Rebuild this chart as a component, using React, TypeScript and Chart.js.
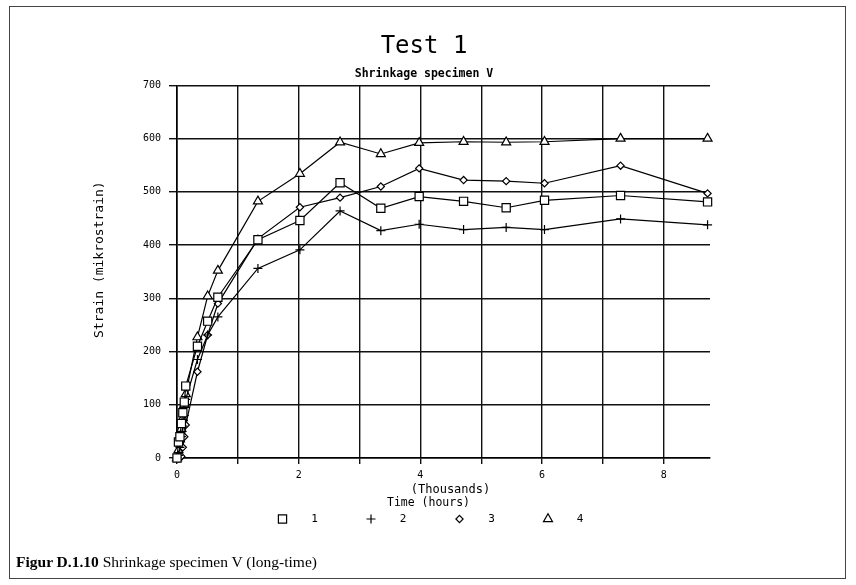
import React, { useEffect, useRef } from 'react';
import { Chart, registerables } from 'chart.js';

Chart.register(...registerables);

// ---- data (time in thousands of hours, strain in mikrostrain) ----
const timeThousands = [0, 0.024, 0.048, 0.072, 0.096, 0.12, 0.144, 0.336, 0.504, 0.672, 1.33, 2.02, 2.68, 3.35, 3.98, 4.71, 5.41, 6.04, 7.29, 8.72];
const series1 = [0, 30, 40, 65, 85, 105, 135, 210, 257, 302, 410, 446, 517, 469, 491, 482, 470, 484, 493, 481];
const series2 = [0, 5, 20, 40, 60, 80, 110, 185, 231, 265, 356, 391, 464, 427, 439, 429, 433, 429, 449, 438];
const series3 = [0, 0, 0, 3, 20, 40, 62, 162, 231, 290, 412, 471, 489, 510, 544, 522, 520, 516, 549, 497];
const series4 = [0, 15, 35, 55, 75, 100, 120, 227, 304, 352, 482, 534, 593, 571, 592, 594, 593, 594, 600, 600];
const seriesLabels = ['1', '2', '3', '4'];
const seriesMarkers = ['rect', 'cross', 'rectRot', 'triangle'];
const markerRadius = [5.8, 4.5, 3.6, 5.2];

const X_MIN = 0;
const X_MAX = 8.76;
const Y_MIN = 0;
const Y_MAX = 700;
const Y_STEP = 100;
const X_STEP = 1;

const titleText = 'Test 1';
const subtitleText = 'Shrinkage specimen V';
const yTitle = 'Strain (mikrostrain)';
const xTitleUpper = '(Thousands)';
const xTitleLower = 'Time (hours)';
const captionBold = 'Figur D.1.10';
const captionRest = ' Shrinkage specimen V (long-time)';

const MONO = '"DejaVu Sans Mono", monospace';

function drawMarker(ctx: CanvasRenderingContext2D, style: string, x: number, y: number, r: number) {
  ctx.beginPath();
  if (style === 'rect') {
    const h = r * Math.SQRT1_2;
    ctx.rect(x - h, y - h, 2 * h, 2 * h);
  } else if (style === 'cross') {
    ctx.moveTo(x - r, y);
    ctx.lineTo(x + r, y);
    ctx.moveTo(x, y - r);
    ctx.lineTo(x, y + r);
  } else if (style === 'rectRot') {
    ctx.moveTo(x, y - r);
    ctx.lineTo(x + r, y);
    ctx.lineTo(x, y + r);
    ctx.lineTo(x - r, y);
    ctx.closePath();
  } else {
    const a = Math.PI * 2 / 3;
    ctx.moveTo(x, y - r);
    ctx.lineTo(x + Math.sin(a) * r, y - Math.cos(a) * r);
    ctx.lineTo(x + Math.sin(2 * a) * r, y - Math.cos(2 * a) * r);
    ctx.closePath();
  }
  if (style !== 'cross') {
    ctx.fillStyle = '#fff';
    ctx.fill();
  }
  ctx.stroke();
}

const extrasPlugin = {
  id: 'extras',
  afterDraw(chart: any) {
    const ctx: CanvasRenderingContext2D = chart.ctx;
    const area = chart.chartArea;
    const cx = (area.left + area.right) / 2;
    ctx.save();
    ctx.fillStyle = '#000';
    ctx.strokeStyle = '#000';
    ctx.textBaseline = 'middle';
    ctx.textAlign = 'center';
    ctx.font = `12px ${MONO}`;
    ctx.fillText(xTitleUpper, cx + 7, area.bottom + 32);
    ctx.font = `11.5px ${MONO}`;
    ctx.fillText(xTitleLower, cx - 15, area.bottom + 45);

    // legend
    ctx.font = `11px ${MONO}`;
    ctx.lineWidth = 1.2;
    const legendY = area.bottom + 61;
    const startX = cx - 161;
    chart.data.datasets.forEach((ds: any, i: number) => {
      const mx = startX + i * 88.5;
      drawMarker(ctx, ds.pointStyle, mx, legendY, ds.pointRadius);
      ctx.fillStyle = '#000';
      ctx.fillText(ds.label, mx + 32, legendY);
    });

    // y axis title
    ctx.translate(100, (area.top + area.bottom) / 2 - 12);
    ctx.rotate(-Math.PI / 2);
    ctx.font = `13px ${MONO}`;
    ctx.fillText(yTitle, 0, 0);
    ctx.restore();
  },
};

export default function App() {
  const canvasRef = useRef<HTMLCanvasElement | null>(null);

  useEffect(() => {
    const canvas = canvasRef.current;
    if (!canvas) return;
    const allSeries = [series1, series2, series3, series4];
    const datasets = allSeries.map((vals, i) => ({
      label: seriesLabels[i],
      data: timeThousands.map((t, j) => ({ x: t, y: vals[j] })),
      borderColor: '#000',
      borderWidth: 1.2,
      pointStyle: seriesMarkers[i],
      pointRadius: markerRadius[i],
      pointBorderColor: '#000',
      pointBackgroundColor: '#fff',
      pointBorderWidth: 1.2,
      fill: false,
      tension: 0,
      clip: false as any,
    }));

    const chart = new Chart(canvas, {
      type: 'line',
      data: { datasets },
      plugins: [extrasPlugin],
      options: {
        animation: false,
        responsive: false,
        maintainAspectRatio: false,
        devicePixelRatio: 1,
        layout: { padding: { top: 0, left: 138, right: 146, bottom: 97 } },
        plugins: {
          legend: { display: false },
          tooltip: { enabled: false },
          title: {
            display: true,
            text: titleText,
            color: '#000',
            font: { family: MONO, size: 24, weight: 'normal', lineHeight: 1.2 },
            padding: { top: 32.6, bottom: 2 },
          },
          subtitle: {
            display: true,
            text: subtitleText,
            color: '#000',
            font: { family: MONO, size: 11.5, weight: 'bold', lineHeight: 1.2 },
            padding: { top: 3.7, bottom: 4.4 },
          },
        },
        scales: {
          x: {
            type: 'linear',
            min: X_MIN,
            max: X_MAX,
            afterFit: (s: any) => { s.height = 30; },
            grid: { color: '#111', lineWidth: 1.4, tickLength: 6, drawTicks: true },
            border: { color: '#000', width: 1.6 },
            ticks: {
              stepSize: X_STEP,
              includeBounds: false,
              autoSkip: false,
              maxRotation: 0,
              padding: 5,
              color: '#000',
              font: { family: MONO, size: 10 },
              callback: (v: any) => {
                const n = Number(v);
                const r = Math.round(n);
                return Math.abs(n - r) < 1e-6 && r % 2 === 0 ? String(r) : '';
              },
            },
          },
          y: {
            type: 'linear',
            min: Y_MIN,
            max: Y_MAX,
            afterFit: (s: any) => { s.width = 39; },
            grid: { color: '#111', lineWidth: 1.4, tickLength: 8, drawTicks: true },
            border: { color: '#000', width: 1.6 },
            ticks: {
              stepSize: Y_STEP,
              padding: 8,
              color: '#000',
              font: { family: MONO, size: 10 },
            },
          },
        },
      } as any,
    });
    return () => chart.destroy();
  }, []);

  return (
    <div style={{ position: 'fixed', left: 0, top: 0, width: 856, height: 585, background: '#fff', overflow: 'hidden' }}>
      <canvas ref={canvasRef} width={856} height={585} style={{ position: 'absolute', left: 0, top: 0, width: 856, height: 585 }} />
      <div style={{ position: 'absolute', left: 9, top: 6, width: 835, height: 571, border: '1px solid #444', pointerEvents: 'none' }} />
      <div style={{ position: 'absolute', left: 16, top: 552, fontFamily: '"Liberation Serif", "Times New Roman", serif', fontSize: 15.5, lineHeight: '20px', color: '#000', whiteSpace: 'nowrap' }}>
        <b>{captionBold}</b>{captionRest}
      </div>
    </div>
  );
}
